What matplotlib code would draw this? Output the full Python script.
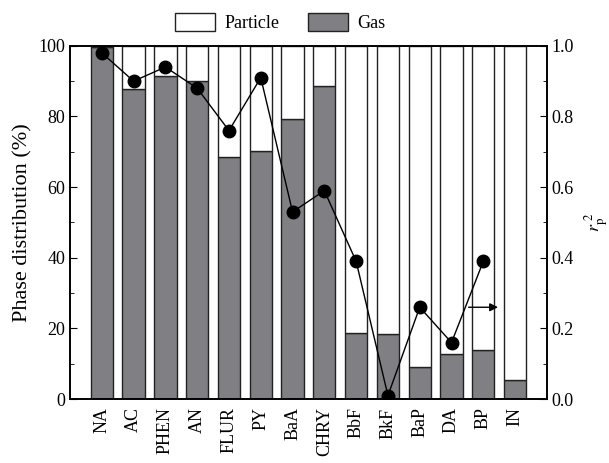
import numpy as np
import matplotlib
matplotlib.use('Agg')
import matplotlib.pyplot as plt

plt.rcParams['font.family'] = ['Liberation Serif', 'DejaVu Serif']
plt.rcParams['mathtext.fontset'] = 'stix'

# data
compounds = ['NA', 'AC', 'PHEN', 'AN', 'FLUR', 'PY', 'BaA', 'CHRY',
             'BbF', 'BkF', 'BaP', 'DA', 'BP', 'IN']
gas = [99.6, 87.7, 91.6, 90.1, 68.6, 70.3, 79.2, 88.5,
       18.6, 18.3, 9.0, 12.7, 13.9, 5.4]
particle = [100 - g for g in gas]
r2 = [0.98, 0.90, 0.94, 0.88, 0.76, 0.91, 0.53, 0.59,
      0.39, 0.01, 0.26, 0.16, 0.39]

x = np.arange(len(compounds))

fig = plt.figure(figsize=(6.09, 4.63), dpi=100)
ax = fig.add_axes([0.115, 0.138, 0.783, 0.763])

edge = '#222222'
ax.bar(x, gas, width=0.7, color='#808084', edgecolor=edge, linewidth=1.0, label='Gas')
ax.bar(x, particle, bottom=gas, width=0.7, color='white', edgecolor=edge,
       linewidth=1.0, label='Particle')

ax.set_xlim(-1, 14)
ax.set_ylim(0, 100)
ax.set_xticks(x)
ax.set_xticklabels(compounds, rotation=90)
ax.set_yticks(np.arange(0, 101, 20))
ax.set_yticks(np.arange(10, 100, 20), minor=True)
ax.set_ylabel('Phase distribution (%)', fontsize=16, labelpad=4)
ax.tick_params(axis='y', direction='in', length=5, labelsize=13)
ax.tick_params(axis='y', which='minor', direction='in', length=3)
ax.tick_params(axis='x', direction='in', length=0, labelsize=13, pad=6)

ax2 = ax.twinx()
ax2.plot(x[:len(r2)], r2, color='black', linewidth=1.0, marker='o',
         markersize=9, markerfacecolor='black')
ax2.set_ylim(0, 1.0)
ax2.set_yticks(np.arange(0, 1.01, 0.2))
ax2.set_yticks(np.arange(0.1, 1.0, 0.2), minor=True)
ax2.yaxis.set_major_formatter(matplotlib.ticker.FormatStrFormatter('%.1f'))
ax2.tick_params(axis='y', direction='in', length=5, labelsize=13)
ax2.tick_params(axis='y', which='minor', direction='in', length=3)
ax2.set_ylabel(r'$r_{\rm p}^{\ 2}$', fontsize=13, labelpad=6)

ax2.annotate('', xy=(12.55, 0.26), xytext=(11.45, 0.26),
             arrowprops=dict(arrowstyle='-|>', color='black', lw=1.0,
                             mutation_scale=12))

for a in (ax, ax2):
    for s in a.spines.values():
        s.set_linewidth(1.2)

h, l = ax.get_legend_handles_labels()
fig.legend(h[::-1], l[::-1], loc='center', bbox_to_anchor=(0.46, 0.952), ncol=2,
           frameon=False, fontsize=13, handlelength=2.2, handleheight=1.2,
           columnspacing=1.6, handletextpad=0.5)

fig.savefig('out.png', dpi=100)
